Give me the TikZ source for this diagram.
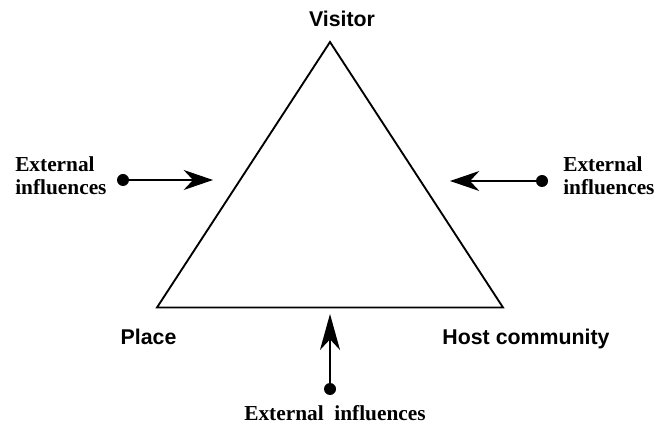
\documentclass[tikz,border=0pt]{standalone}
\usepackage{fontspec}
\setmainfont{Liberation Serif}
\setsansfont{Liberation Sans}
\usetikzlibrary{arrows.meta}
\tikzstyle{extdot}=[circle, fill=black, inner sep=0pt, minimum size=9pt]
\tikzstyle{corner}=[anchor=base, inner sep=0pt, font=\sffamily\bfseries\fontsize{16}{18}\selectfont]
\tikzstyle{ext}=[inner sep=0pt, align=left, font=\bfseries\fontsize{16}{17.3}\selectfont]
\tikzstyle{push}=[line width=1.3pt, -{Stealth[length=22pt, width=15pt, inset=7pt]}]
\newcommand{\extdot}{\node[extdot]}

\begin{document}
\begin{tikzpicture}[x=0.75pt, y=-0.75pt]
\useasboundingbox (0,0) rectangle (656,423);
%triangle
\coordinate (visitor) at (330,42);
\coordinate (place) at (157,307.5);
\coordinate (host) at (503,307.5);
\draw[line width=1.4pt] (visitor) -- (place) -- (host) -- cycle;
%names
\node[corner] (nvisitor) at (342,27){Visitor};
\node[corner] (nplace) at (148.5,345){Place};
\node[corner] (nhost) at (526,345){Host community};
%influences
\node[ext, anchor=west] (eleft) at (15,176){External\\influences};
\node[ext, anchor=west] (eright) at (563,176){External\\influences};
\node[ext, anchor=base] (ebottom) at (335,420){External\hspace{0.5em}influences};
%arrows
\extdot (dleft) at (123,180){};
\extdot (dright) at (542,181){};
\extdot (dbottom) at (330,389){};
\coordinate (tleft) at (213,180);
\coordinate (tright) at (450,181);
\coordinate (tbottom) at (330,314);
\draw[push] (dleft) -- (tleft);
\draw[push] (dright) -- (tright);
\draw[push, -{Stealth[length=27pt, width=15pt, inset=8pt]}] (dbottom) -- (tbottom);
\end{tikzpicture}
\end{document}
